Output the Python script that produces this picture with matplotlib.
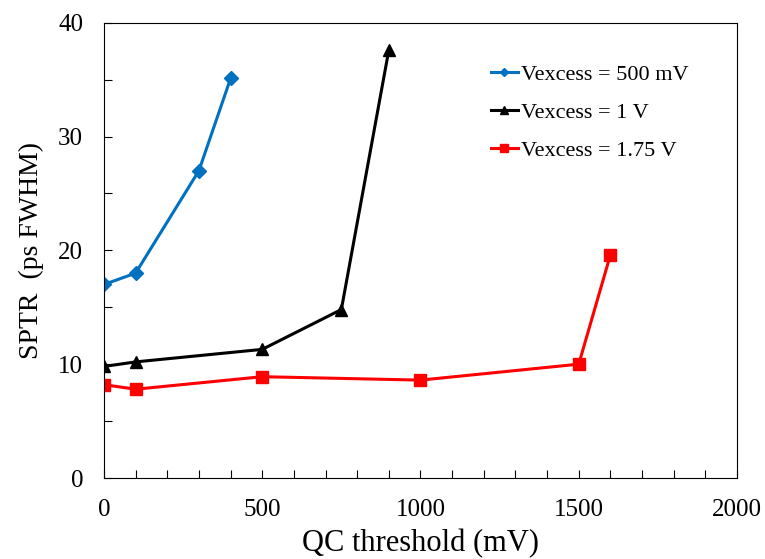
import matplotlib
matplotlib.use('Agg')
import matplotlib.pyplot as plt
from matplotlib.ticker import MultipleLocator

plt.rcParams['font.family'] = ['Liberation Serif', 'DejaVu Serif']

# --- data ---
qc_500mv = [0, 100, 300, 400]
sptr_500mv = [17.0, 18.0, 27.0, 35.1]

qc_1v = [0, 100, 500, 750, 900]
sptr_1v = [9.8, 10.2, 11.3, 14.8, 37.6]

qc_175v = [0, 100, 500, 1000, 1500, 1600]
sptr_175v = [8.2, 7.8, 8.9, 8.6, 10.0, 19.6]

labels = ['Vexcess = 500 mV', 'Vexcess = 1 V', 'Vexcess = 1.75 V']

fig = plt.figure(figsize=(7.65, 5.59), dpi=100)
ax = fig.add_axes([0.1359, 0.1449, 0.8275, 0.8145])

ax.plot(qc_500mv, sptr_500mv, '-D', color='#0070C0', lw=2.2, ms=7, label=labels[0])
ax.plot(qc_1v, sptr_1v, '-^', color='black', lw=2.2, ms=9, label=labels[1])
ax.plot(qc_175v, sptr_175v, '-s', color='#FF0000', lw=2.2, ms=9, label=labels[2])

ax.set_xlim(0, 2000)
ax.set_ylim(0, 40)
ax.xaxis.set_major_locator(MultipleLocator(500))
ax.xaxis.set_minor_locator(MultipleLocator(100))
ax.yaxis.set_major_locator(MultipleLocator(10))
ax.yaxis.set_minor_locator(MultipleLocator(5))
ax.tick_params(which='both', direction='in', labelsize=18, width=0.8, length=6)
ax.tick_params(axis='x', pad=15)
ax.tick_params(axis='y', pad=15)
for s in ax.spines.values():
    s.set_linewidth(0.8)

ax.set_xlabel('QC threshold (mV)', fontsize=22, labelpad=6)
ax.set_ylabel('SPTR  (ps FWHM)', fontsize=20, labelpad=10)

ax.legend(loc='upper left', bbox_to_anchor=(0.58, 0.952), frameon=False, fontsize=16,
          handlelength=1.2, handletextpad=0.15, labelspacing=0.78, markerscale=0.65)

plt.savefig('out.png', dpi=100)
